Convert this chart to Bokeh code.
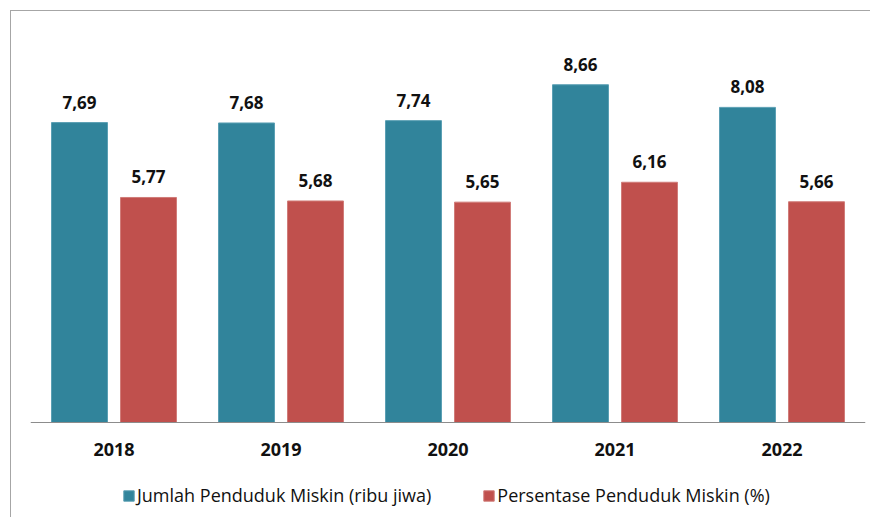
from bokeh.plotting import figure
from bokeh.models import (ColumnDataSource, FactorRange, Range1d, LabelSet, Legend,
                          LegendItem, Span)
from bokeh.core.properties import value
from bokeh.transform import dodge
from bokeh.embed import file_html
from bokeh.resources import INLINE

years = ["2018", "2019", "2020", "2021", "2022"]
jumlah = [7.69, 7.68, 7.74, 8.66, 8.08]
persen = [5.77, 5.68, 5.65, 6.16, 5.66]
series_names = ["Jumlah Penduduk Miskin (ribu jiwa)", "Persentase Penduduk Miskin (%)"]

TEAL = "#31849B"
RED = "#C0504D"
TXT = "#111111"

def fmt(v):
    return f"{v:.2f}".replace(".", ",")

src = ColumnDataSource(dict(
    years=years, jumlah=jumlah, persen=persen,
    jl=[fmt(v) for v in jumlah], pl=[fmt(v) for v in persen],
    base=[0] * len(years),
))

# frame reaches the bottom of the window; the value axis starts below zero so that
# the category labels and the legend sit inside the frame under the baseline
p = figure(x_range=FactorRange(*years, range_padding=0), y_range=Range1d(-95 / 39, 10),
           frame_width=835, frame_height=485, output_backend="svg", toolbar_location=None,
           min_border_left=19, min_border_right=5, min_border_top=21, min_border_bottom=0,
           x_axis_location=None, y_axis_location=None)
p.margin = (10, 0, 0, 10)
p.styles = {"border-top": "1px solid #a6a6a6", "border-left": "1px solid #a6a6a6"}
p.outline_line_color = None
p.xgrid.visible = False
p.ygrid.visible = False
p.background_fill_color = "white"
p.border_fill_color = "white"

bw = 0.335
off = 0.2066
r1 = p.vbar(x=dodge("years", -off, range=p.x_range), top="jumlah", width=bw, source=src,
            fill_color=TEAL, line_color="#5a9fb3", line_width=1)
r2 = p.vbar(x=dodge("years", off, range=p.x_range), top="persen", width=bw, source=src,
            fill_color=RED, line_color="#d07b78", line_width=1)

# baseline (category axis line)
p.add_layout(Span(location=0, dimension="width", line_color="#8c8c8c", line_width=1))

# value labels
for col, lab, o in (("jumlah", "jl", -off), ("persen", "pl", off)):
    ls = LabelSet(x=dodge("years", o, range=p.x_range), y=col, text=lab, source=src,
                  text_align="center", text_baseline="alphabetic", y_offset=14,
                  text_font=value("Open Sans"), text_font_style="bold", text_font_size="17px",
                  text_color=TXT)
    p.add_layout(ls)

# category labels
cat = LabelSet(x="years", y="base", text="years", source=src,
               text_align="center", text_baseline="alphabetic", y_offset=-33,
               text_font=value("Open Sans"), text_font_style="bold", text_font_size="18px",
               text_color=TXT)
p.add_layout(cat)

legend = Legend(items=[LegendItem(label=series_names[0], renderers=[r1]),
                       LegendItem(label=series_names[1], renderers=[r2])],
                orientation="horizontal", location=(92, 10),
                label_text_font="Open Sans", label_text_font_size="18px",
                label_text_color=TXT, glyph_width=13, glyph_height=13,
                label_standoff=2, spacing=51, padding=0, margin=0,
                border_line_color=None, background_fill_alpha=0)
p.add_layout(legend, "center")

open("out.html", "w").write(file_html(p, INLINE))
